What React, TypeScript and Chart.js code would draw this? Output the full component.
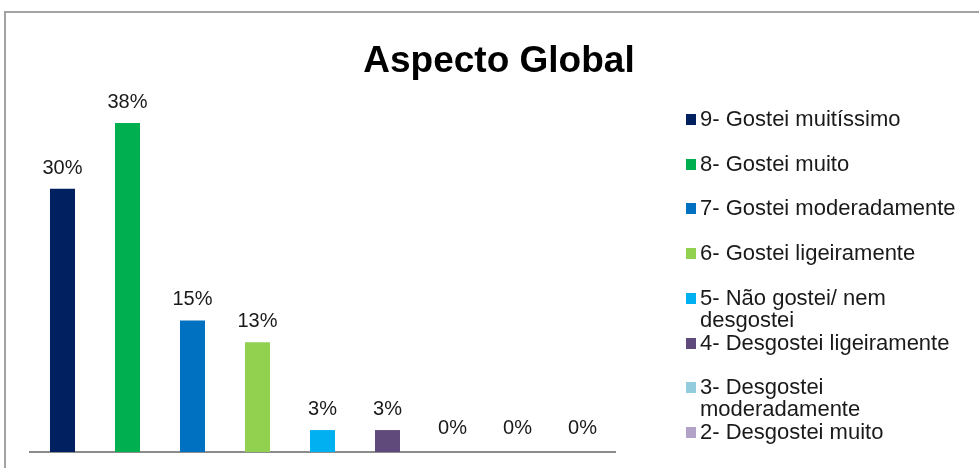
import React, { useEffect, useRef } from "react";
import { Chart, registerables } from "chart.js";

Chart.register(...registerables);

const chartTitle = "Aspecto Global";
const categories = [
  "9- Gostei muitíssimo",
  "8- Gostei muito",
  "7- Gostei moderadamente",
  "6- Gostei ligeiramente",
  "5- Não gostei/ nem desgostei",
  "4- Desgostei ligeiramente",
  "3- Desgostei moderadamente",
  "2- Desgostei muito",
  "1- Desgostei muitíssimo",
];
const values = [30, 37.5, 15, 12.5, 2.5, 2.5, 0, 0, 0];
const colors = [
  "#002060",
  "#00B050",
  "#0070C0",
  "#92D050",
  "#00B0F0",
  "#604A7B",
  "#93CDDD",
  "#B3A2C7",
  "#C0504D",
];

const FONT = "'Liberation Sans', Arial, sans-serif";

const valueLabels = {
  id: "valueLabels",
  afterDatasetsDraw(chart: any) {
    const ctx = chart.ctx;
    const meta = chart.getDatasetMeta(0);
    ctx.save();
    ctx.font = `20px ${FONT}`;
    ctx.fillStyle = "#1a1a1a";
    ctx.textAlign = "center";
    ctx.textBaseline = "alphabetic";
    meta.data.forEach((bar: any, i: number) => {
      const off = values[i] === 0 ? 18 : 15;
      ctx.fillText(Math.round(values[i]) + "%", bar.x, bar.y - off);
    });
    ctx.restore();
  },
};

export default function App() {
  const canvasRef = useRef<HTMLCanvasElement | null>(null);

  useEffect(() => {
    if (!canvasRef.current) return;
    const chart = new Chart(canvasRef.current, {
      type: "bar",
      data: {
        labels: categories,
        datasets: [
          {
            data: values,
            backgroundColor: colors,
            borderWidth: 0,
            barPercentage: 0.385,
            categoryPercentage: 1,
          },
        ],
      },
      options: {
        responsive: false,
        animation: false,
        devicePixelRatio: 1,
        layout: { padding: { left: 30, right: 364, top: 101, bottom: 16 } },
        plugins: {
          legend: { display: false },
          tooltip: { enabled: false },
          title: { display: false },
        },
        scales: {
          x: {
            grid: { display: false, drawTicks: false },
            ticks: { display: false },
            border: { display: true, color: "#8c8c8c", width: 2 },
          },
          y: { display: false, min: 0, max: 40 },
        },
      },
      plugins: [valueLabels],
    });
    return () => chart.destroy();
  }, []);

  const legendTop = 119;
  const legendStep = 44.7;

  return (
    <div
      style={{
        position: "absolute",
        left: 0,
        top: 0,
        width: 979,
        height: 468,
        overflow: "hidden",
        background: "#ffffff",
        fontFamily: FONT,
      }}
    >
      <div
        style={{
          position: "absolute",
          left: 4,
          top: 11,
          width: 1100,
          height: 1000,
          border: "2px solid #a3a3a3",
          boxSizing: "border-box",
        }}
      />
      <canvas
        ref={canvasRef}
        width={979}
        height={468}
        style={{ position: "absolute", left: 0, top: 0, width: 979, height: 468 }}
      />
      <div
        style={{
          position: "absolute",
          left: 199,
          width: 600,
          top: 41,
          textAlign: "center",
          fontWeight: "bold",
          fontSize: 37,
          lineHeight: "37px",
          color: "#000",
          whiteSpace: "nowrap",
        }}
      >
        {chartTitle}
      </div>
      <div
        style={{
          position: "absolute",
          left: 680,
          top: 0,
          width: 278,
          height: 468,
          overflow: "hidden",
        }}
      >
        {categories.map((c, i) => (
          <div
            key={c}
            style={{
              position: "absolute",
              left: 0,
              top: legendTop + i * legendStep - 11,
              width: 300,
            }}
          >
            <div
              style={{
                position: "absolute",
                left: 6,
                top: 6,
                width: 10,
                height: 11,
                background: colors[i],
              }}
            />
            <div
              style={{
                position: "absolute",
                left: 20,
                top: 0,
                width: 258,
                fontSize: 22,
                lineHeight: "22px",
                color: "#1a1a1a",
                whiteSpace: "normal",
              }}
            >
              {c}
            </div>
          </div>
        ))}
      </div>
    </div>
  );
}
